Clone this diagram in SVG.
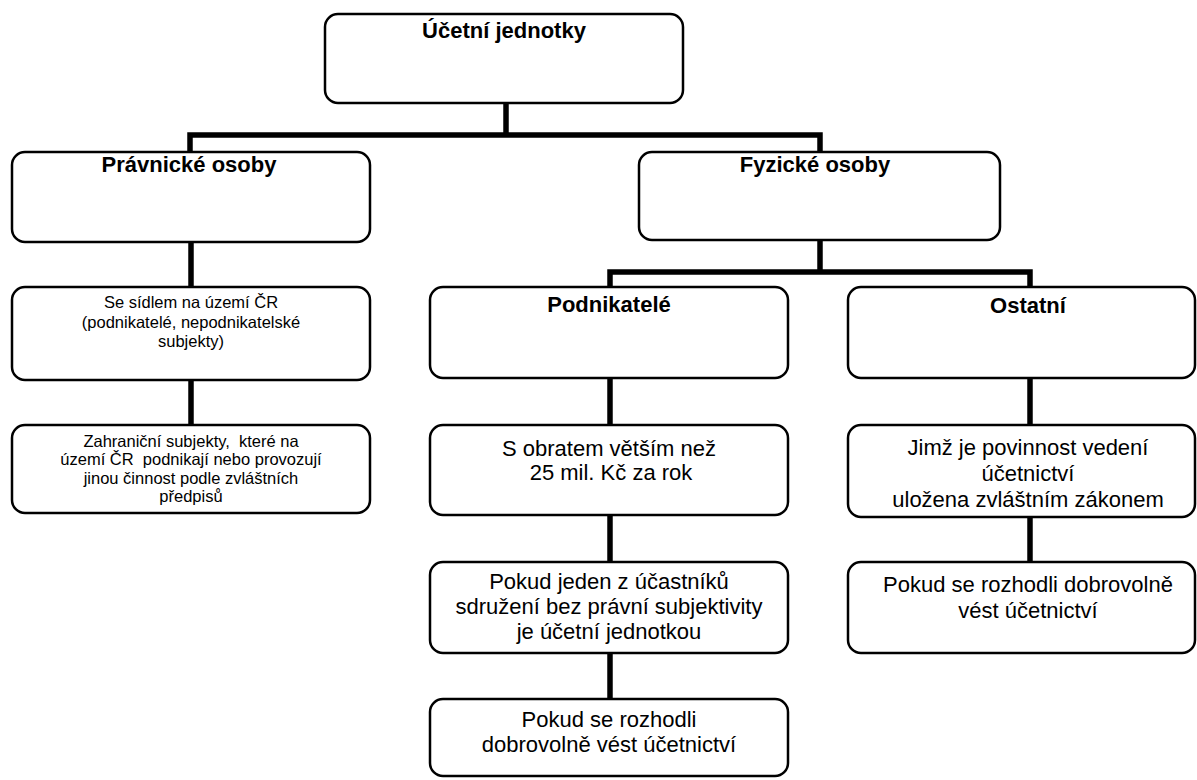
<svg xmlns="http://www.w3.org/2000/svg" width="1197" height="780" viewBox="0 0 1197 780">
<style>
.box{fill:#fff;stroke:#000;stroke-width:2.5}
.t{font-family:"Liberation Sans",Arial,sans-serif;fill:#000;text-anchor:middle}
.b{font-weight:bold;font-size:22px}
.m{font-size:22px}
.s{font-size:16.5px}
.conn{stroke:#000;stroke-width:5.5;fill:none;stroke-linecap:butt}
</style>
<rect width="1197" height="780" fill="#fff"/>
<g id="connectors">
<line class="conn" x1="506" y1="103" x2="506" y2="135"/>
<polyline class="conn" points="190,152 190,135 820,135 820,152"/>
<line class="conn" x1="191" y1="242" x2="191" y2="287"/>
<line class="conn" x1="191" y1="380" x2="191" y2="425"/>
<line class="conn" x1="820" y1="240" x2="820" y2="272"/>
<polyline class="conn" points="610,287 610,272 1030,272 1030,287"/>
<line class="conn" x1="610" y1="378" x2="610" y2="425"/>
<line class="conn" x1="610" y1="515" x2="610" y2="562"/>
<line class="conn" x1="610" y1="653" x2="610" y2="699"/>
<line class="conn" x1="1030" y1="378" x2="1030" y2="425"/>
<line class="conn" x1="1030" y1="517" x2="1030" y2="562"/>
</g>
<g id="n-ucetni">
<rect class="box" x="325" y="14" width="358" height="89" rx="13"/>
<text class="t b" x="504" y="38">Účetní jednotky</text>
</g>
<g id="n-pravnicke">
<rect class="box" x="12" y="152" width="358" height="90" rx="13"/>
<text class="t b" x="189" y="172">Právnické osoby</text>
</g>
<g id="n-fyzicke">
<rect class="box" x="639" y="152" width="361" height="88" rx="13"/>
<text class="t b" x="815" y="172">Fyzické osoby</text>
</g>
<g id="n-sidlem">
<rect class="box" x="12" y="287" width="358" height="93" rx="13"/>
<text class="t s" x="191" y="308">Se sídlem na území ČR</text>
<text class="t s" x="191" y="328">(podnikatelé, nepodnikatelské</text>
<text class="t s" x="191" y="347">subjekty)</text>
</g>
<g id="n-zahranicni">
<rect class="box" x="12" y="425" width="358" height="88" rx="13"/>
<text class="t s" x="191" y="447" xml:space="preserve">Zahraniční subjekty,  které na</text>
<text class="t s" x="191" y="465" xml:space="preserve">území ČR  podnikají nebo provozují</text>
<text class="t s" x="191" y="484">jinou činnost podle zvláštních</text>
<text class="t s" x="191" y="502">předpisů</text>
</g>
<g id="n-podnikatele">
<rect class="box" x="430" y="287" width="358" height="91" rx="13"/>
<text class="t b" x="609" y="312">Podnikatelé</text>
</g>
<g id="n-ostatni">
<rect class="box" x="848" y="287" width="347" height="91" rx="13"/>
<text class="t b" x="1028" y="313">Ostatní</text>
</g>
<g id="n-obratem">
<rect class="box" x="430" y="425" width="358" height="90" rx="13"/>
<text class="t m" x="609" y="456">S obratem větším než</text>
<text class="t m" x="611" y="480">25 mil. Kč za rok</text>
</g>
<g id="n-pokud-jeden">
<rect class="box" x="430" y="562" width="358" height="91" rx="13"/>
<text class="t m" x="609" y="589">Pokud jeden z účastníků</text>
<text class="t m" x="609" y="614">sdružení bez právní subjektivity</text>
<text class="t m" x="609" y="639">je účetní jednotkou</text>
</g>
<g id="n-pokud-mid">
<rect class="box" x="430" y="699" width="358" height="77" rx="13"/>
<text class="t m" x="609" y="727">Pokud se rozhodli</text>
<text class="t m" x="609" y="752">dobrovolně vést účetnictví</text>
</g>
<g id="n-jimz">
<rect class="box" x="848" y="425" width="347" height="92" rx="13"/>
<text class="t m" x="1028" y="455">Jimž je povinnost vedení</text>
<text class="t m" x="1028" y="481">účetnictví</text>
<text class="t m" x="1028" y="507">uložena zvláštním zákonem</text>
</g>
<g id="n-pokud-right">
<rect class="box" x="848" y="562" width="347" height="91" rx="13"/>
<text class="t m" x="1028" y="592">Pokud se rozhodli dobrovolně</text>
<text class="t m" x="1028" y="618">vést účetnictví</text>
</g>
</svg>
